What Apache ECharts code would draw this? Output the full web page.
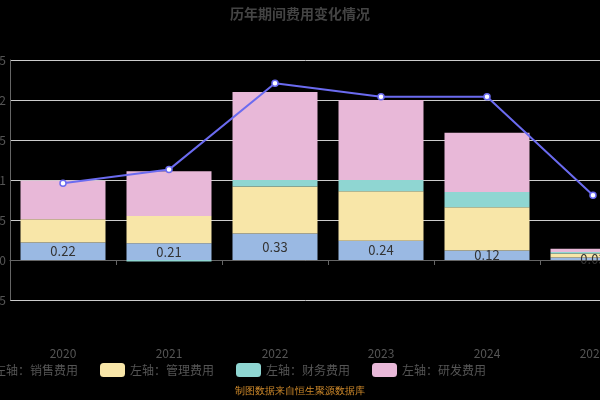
<!DOCTYPE html>
<html>
<head>
<meta charset="utf-8">
<script src="https://cdn.jsdelivr.net/npm/echarts@6/dist/echarts.min.js"></script>
<style>html,body{margin:0;background:#000;}#main{width:600px;height:400px;}</style>
</head>
<body>
<div id="main"></div>
<script>
var years = ['2020', '2021', '2022', '2023', '2024', '2025'];
var sales = [0.22, 0.21, 0.33, 0.24, 0.12, 0.03];
var admin = [0.29, 0.34, 0.59, 0.62, 0.54, 0.05];
var finance = [0.0, -0.02, 0.08, 0.14, 0.19, 0.02];
var research = [0.48, 0.56, 1.1, 1.0, 0.74, 0.04];
var rate = [9.6, 11.3, 22.1, 20.4, 20.4, 8.1];

var myChart = echarts.init(document.getElementById('main'));

function barSeries(name, data, color, label) {
    return {
        name: name,
        type: 'bar',
        stack: 'a',
        barWidth: 85,
        data: data,
        itemStyle: { color: color },
        label: label ? {
            show: true, position: 'inside', color: '#333', fontSize: 13,
            formatter: function (p) { return p.value.toFixed(2); }
        } : { show: false }
    };
}

var option = {
    backgroundColor: '#000',
    textStyle: { fontFamily: 'Noto Sans CJK SC' },
    title: {
        text: '历年期间费用变化情况', left: 'center', top: 2,
        textStyle: { color: '#444', fontSize: 14, fontWeight: 'bold' }
    },
    graphic: [{
        type: 'text', left: 'center', top: 386,
        style: { text: '制图数据来自恒生聚源数据库', fill: '#d08a2a', fontSize: 10 }
    }],
    legend: {
        left: -42, top: 358, itemGap: 22,
        textStyle: { color: '#555', fontSize: 12 },
        data: ['左轴：销售费用', '左轴：管理费用', '左轴：财务费用', '左轴：研发费用', '右轴：期间费用率']
    },
    grid: { left: 10, width: 636, top: 60, height: 240, containLabel: false, outerBoundsMode: 'none' },
    xAxis: {
        type: 'category', data: years,
        axisLabel: { color: '#555', fontSize: 12, margin: 47 },
        axisLine: { lineStyle: { color: '#666' } },
        axisTick: { show: true }
    },
    yAxis: [{
        type: 'value', min: -0.5, max: 2.5, interval: 0.5,
        axisLabel: { color: '#555', margin: 4 },
        axisLine: { show: true, lineStyle: { color: '#666' } },
        splitLine: { lineStyle: { color: '#ccc' } }
    }, {
        type: 'value', min: -5, max: 25, interval: 5,
        axisLabel: { show: false }, splitLine: { show: false }
    }],
    series: [
        barSeries('左轴：销售费用', sales, '#9ab9e3', true),
        barSeries('左轴：管理费用', admin, '#f8e6a8', false),
        barSeries('左轴：财务费用', finance, '#8fd6d2', false),
        barSeries('左轴：研发费用', research, '#e8b8d8', false),
        {
            name: '右轴：期间费用率', type: 'line', yAxisIndex: 1, data: rate,
            symbol: 'circle', symbolSize: 6,
            lineStyle: { color: '#6b6bf0', width: 2 },
            itemStyle: { color: '#fff', borderColor: '#6b6bf0', borderWidth: 1.5 }
        }
    ]
};

myChart.setOption(option);
</script>
</body>
</html>
